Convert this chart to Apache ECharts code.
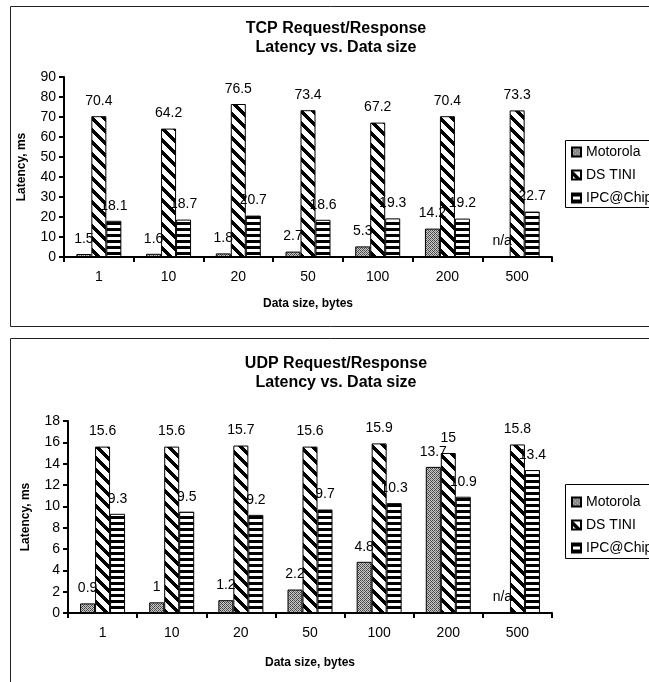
<!DOCTYPE html>
<html>
<head>
<meta charset="utf-8">
<script src="https://cdn.jsdelivr.net/npm/echarts@6/dist/echarts.min.js"></script>
<style>
html,body{margin:0;padding:0;background:#fff;}
#c{width:649px;height:682px;}
</style>
</head>
<body>
<div id="c"></div>
<script>
// ---- data ----
var categories = ['1', '10', '20', '50', '100', '200', '500'];
var seriesNames = ['Motorola', 'DS TINI', 'IPC@Chip'];

var tcpMotorola = [1.5, 1.6, 1.8, 2.7, 5.3, 14.2, null];
var tcpDsTini   = [70.4, 64.2, 76.5, 73.4, 67.2, 70.4, 73.3];
var tcpIpcChip  = [18.1, 18.7, 20.7, 18.6, 19.3, 19.2, 22.7];

var udpMotorola = [0.9, 1, 1.2, 2.2, 4.8, 13.7, null];
var udpDsTini   = [15.6, 15.6, 15.7, 15.6, 15.9, 15, 15.8];
var udpIpcChip  = [9.3, 9.5, 9.2, 9.7, 10.3, 10.9, 13.4];

var tcpTitle = 'TCP Request/Response\nLatency vs. Data size';
var udpTitle = 'UDP Request/Response\nLatency vs. Data size';
var yName = 'Latency, ms';
var xName = 'Data size, bytes';

// ---- patterns ----
function tile(w, h, fn) {
  var c = document.createElement('canvas');
  c.width = w; c.height = h;
  var ctx = c.getContext('2d');
  ctx.fillStyle = '#fff';
  ctx.fillRect(0, 0, w, h);
  for (var y = 0; y < h; y++) for (var x = 0; x < w; x++) {
    var col = fn(x, y);
    if (col) { ctx.fillStyle = col; ctx.fillRect(x, y, 1, 1); }
  }
  return {image: c, repeat: 'repeat'};
}
var patMoto = tile(4, 4, function (x, y) {
  if ((x + y) % 4 === 0 || (x - y + 4) % 4 === 2) return '#444';
  return (x + y) % 2 === 0 ? '#888' : '#c8c8c8';
});
var patTini = tile(12, 12, function (x, y) {
  return (((y - x) % 12) + 12) % 12 < 5 ? '#000' : null;
});
var patIpc = tile(6, 6, function (x, y) {
  return y < 3 ? '#000' : null;
});
var patterns = [patMoto, patTini, patIpc];

var FONT = '"Liberation Sans", Arial, sans-serif';

function toData(arr) {
  return arr.map(function (v) {
    if (v === null) return {value: 0, label: {formatter: 'n/a'}};
    return v;
  });
}

function makeSeries(arrs, idx) {
  return arrs.map(function (arr, i) {
    return {
      type: 'bar',
      name: seriesNames[i],
      xAxisIndex: idx, yAxisIndex: idx,
      data: toData(arr),
      barWidth: 15,
      barGap: '0%',
      itemStyle: {color: patterns[i], borderColor: '#000', borderWidth: 1},
      label: {show: true, position: 'top', distance: 8, color: '#000',
              fontFamily: FONT, fontSize: 14},
      emphasis: {disabled: true},
      animation: false
    };
  });
}

function xAxis(idx) {
  return {
    type: 'category', gridIndex: idx, data: categories,
    axisLine: {lineStyle: {color: '#000', width: 2}},
    axisTick: {show: true, length: 5, lineStyle: {color: '#000', width: 2}},
    axisLabel: {color: '#000', fontFamily: FONT, fontSize: 14, margin: 13},
    name: xName, nameLocation: 'middle', nameGap: idx === 0 ? 41 : 44,
    nameTextStyle: {color: '#000', fontFamily: FONT, fontSize: 12, fontWeight: 'bold'}
  };
}
function yAxis(idx, max, interval) {
  return {
    type: 'value', gridIndex: idx, min: 0, max: max, interval: interval,
    splitLine: {show: false},
    axisLine: {show: true, lineStyle: {color: '#000', width: 2}},
    axisTick: {show: true, length: 5, lineStyle: {color: '#000', width: 2}},
    axisLabel: {color: '#000', fontFamily: FONT, fontSize: 14, margin: 8},
    name: yName, nameLocation: 'middle', nameGap: 36,
    nameTextStyle: {color: '#000', fontFamily: FONT, fontSize: 12, fontWeight: 'bold'}
  };
}
function legend(top) {
  return {
    orient: 'vertical', left: 571, top: top, padding: 0,
    data: seriesNames, itemWidth: 9, itemHeight: 9, itemGap: 9,
    icon: 'rect',
    textStyle: {color: '#000', fontFamily: FONT, fontSize: 14},
    selectedMode: false
  };
}
function title(text, top) {
  return {
    text: text, left: 336, top: top, textAlign: 'center', padding: 0,
    textStyle: {color: '#000', fontFamily: FONT, fontSize: 16, fontWeight: 'bold', lineHeight: 19}
  };
}

var chart = echarts.init(document.getElementById('c'), null, {renderer: 'canvas'});
chart.setOption({
  backgroundColor: '#fff',
  animation: false,
  title: [title(tcpTitle, 19), title(udpTitle, 354)],
  legend: [legend(145), legend(495)],
  grid: [
    {left: 64, top: 77, width: 488, height: 180},
    {left: 68, top: 421, width: 484, height: 192}
  ],
  xAxis: [xAxis(0), xAxis(1)],
  yAxis: [yAxis(0, 90, 10), yAxis(1, 18, 2)],
  series: makeSeries([tcpMotorola, tcpDsTini, tcpIpcChip], 0)
    .concat(makeSeries([udpMotorola, udpDsTini, udpIpcChip], 1)),
  graphic: [
    {type: 'rect', shape: {x: 10.5, y: 6.5, width: 700, height: 320}, style: {fill: null, stroke: '#222', lineWidth: 1}, silent: true},
    {type: 'rect', shape: {x: 10.5, y: 338.5, width: 700, height: 400}, style: {fill: null, stroke: '#222', lineWidth: 1}, silent: true},
    {type: 'rect', shape: {x: 565.5, y: 140.5, width: 120, height: 67}, style: {fill: null, stroke: '#000', lineWidth: 1}, silent: true},
    {type: 'rect', shape: {x: 565.5, y: 484.5, width: 120, height: 74}, style: {fill: null, stroke: '#000', lineWidth: 1}, silent: true}
  ]
});
</script>
</body>
</html>
